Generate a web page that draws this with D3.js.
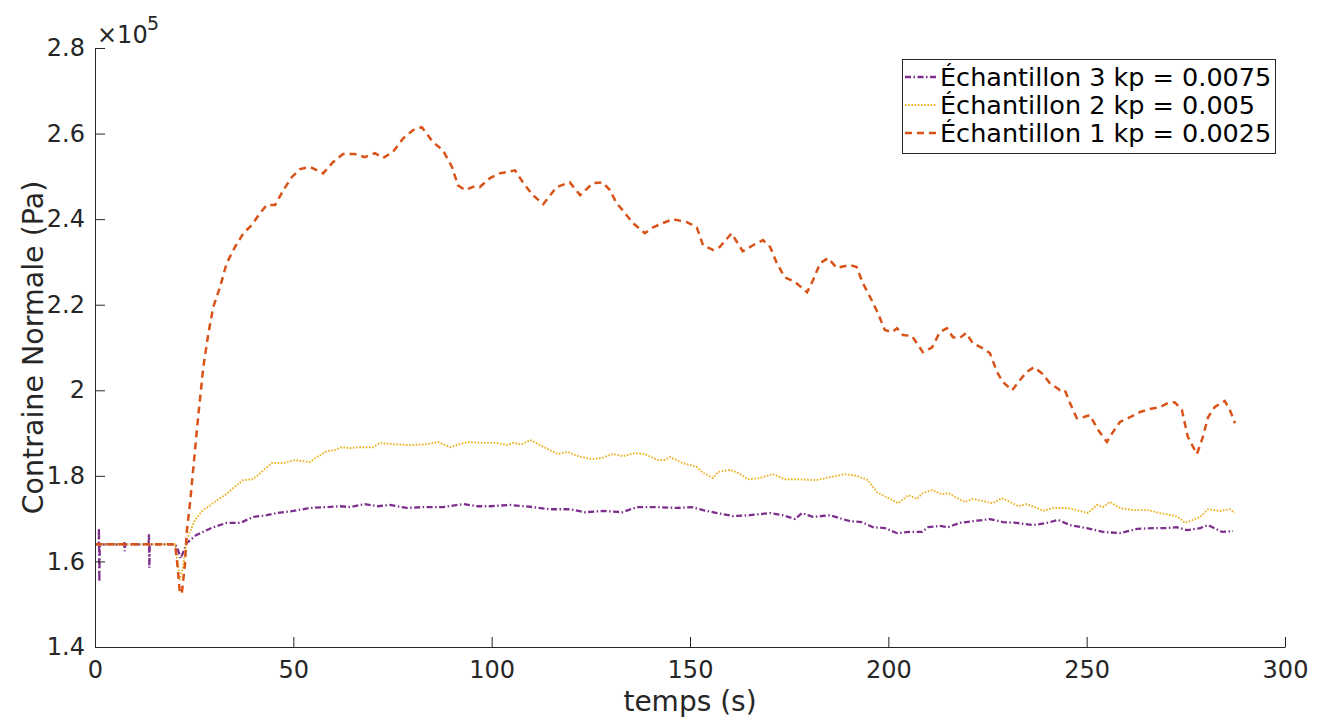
<!DOCTYPE html>
<html>
<head>
<meta charset="utf-8">
<script src="https://cdn.jsdelivr.net/npm/d3@7"></script>
<style>
  body { margin: 0; background: #fff; }
  text { font-family: "DejaVu Sans", sans-serif; }
</style>
</head>
<body>
<div id="root"></div>
<script>
// values are in units of 1e5 Pa (axis shows x10^5)

// Echantillon 1 kp = 0.0025
const s1Time = [0, 20.2, 20.8, 21.4, 21.9, 22.7, 23.1, 24.0, 24.8, 26.0, 27.3, 28.6, 29.8, 31.5, 33.2, 35.3, 37.4, 39.5, 41.6, 43.3,
  45.4, 47.5, 49.6, 51.7, 54.2, 57.5, 60, 62.5, 65.5, 68, 70.6, 72.6, 75.1, 77.7, 80.2, 82.4, 85.2, 87.7, 90, 91.5,
  93.3, 95.8, 97, 99.6, 102, 105.9, 108, 110.4, 113, 116.4, 119.7, 122.3, 125.5, 128, 129.8, 131.5, 133, 135.6, 138.6, 140.7,
  143.2, 145.7, 149.2, 151.7, 153.3, 155.8, 157.5, 160.5, 162, 163.3, 165.9, 168.4, 170.2, 171.9, 173.9, 176.5, 179.5, 181, 182.8, 184.8,
  187, 190.3, 192, 193.6, 195.4, 197.4, 199.1, 200.9, 202.2, 203.7, 205.9, 207.2, 208.7, 211, 213, 214.8, 216.3, 218, 219.6, 221.3,
  223.6, 225.6, 227.4, 228.9, 231.2, 233.2, 234.9, 236.7, 238.7, 240.7, 243.3, 244.5, 245.8, 247.5, 249.1, 250.8, 252.9, 255.1, 256.6, 258.4,
  260.9, 263.4, 265.9, 268.5, 270.5, 272.2, 274, 275.5, 277.8, 279.3, 280.6, 282.3, 284.8, 286.1, 287.4];
const s1Value = [1.64, 1.64, 1.59, 1.525, 1.526, 1.596, 1.666, 1.74, 1.82, 1.937, 2.054, 2.134, 2.194, 2.241, 2.297, 2.335, 2.367, 2.386, 2.414, 2.433,
  2.433, 2.468, 2.498, 2.517, 2.522, 2.507, 2.533, 2.552, 2.552, 2.545, 2.554, 2.543, 2.557, 2.589, 2.608, 2.615, 2.58, 2.561, 2.522, 2.479,
  2.468, 2.477, 2.475, 2.496, 2.507, 2.514, 2.484, 2.456, 2.435, 2.475, 2.486, 2.456, 2.484, 2.486, 2.468, 2.437, 2.421, 2.391, 2.367, 2.381,
  2.391, 2.40, 2.393, 2.381, 2.339, 2.328, 2.335, 2.367, 2.344, 2.325, 2.339, 2.351, 2.335, 2.297, 2.264, 2.253, 2.229, 2.257, 2.297, 2.309,
  2.286, 2.293, 2.288, 2.25, 2.218, 2.18, 2.141, 2.136, 2.145, 2.129, 2.127, 2.11, 2.089, 2.10, 2.136, 2.145, 2.124, 2.122, 2.134, 2.11,
  2.099, 2.087, 2.043, 2.019, 2.0, 2.024, 2.043, 2.054, 2.04, 2.017, 2.0, 2.0, 1.97, 1.935, 1.937, 1.942, 1.907, 1.879, 1.902, 1.926,
  1.937, 1.949, 1.956, 1.961, 1.97, 1.972, 1.954, 1.891, 1.851, 1.891, 1.937, 1.961, 1.975, 1.954, 1.923];

// Echantillon 2 kp = 0.005
const s2Time = [0, 20.2, 20.8, 21.4, 22.2, 23.1, 24, 25.2, 27.2, 28.2, 30.7, 32.8, 34.8, 37.3, 39.8, 42, 44.6, 47.5, 50.4, 54.2,
  55.9, 58.5, 60.5, 62.2, 64.3, 66.8, 70.1, 71.8, 75.1, 79.4, 83.6, 86.5, 89.5, 92, 94, 97.9, 101.3, 103.9, 105.4, 107.6,
  109.7, 112.2, 114.7, 116.7, 119.2, 121.8, 125.3, 127.8, 130.6, 133.1, 136.1, 138.6, 141.9, 143.7, 144.9, 148.2, 151.7, 153.3, 155.8, 157.1,
  160.1, 162.1, 164.6, 167.6, 170.9, 173.9, 177.2, 181.9, 185.3, 189.1, 192, 194.9, 197.1, 199.6, 202.5, 205, 207.2, 208.7, 211, 213.5,
  215.1, 217.3, 219.3, 221.3, 223.8, 226.3, 228.6, 230.7, 232.7, 234.9, 237.5, 239, 241.5, 245, 247.5, 250.3, 252.6, 254.1, 255.9, 258.4,
  261.7, 265.4, 268.5, 271.5, 273, 274.8, 276.8, 278.6, 280.6, 283.6, 286.1, 287.4];
const s2Value = [1.64, 1.64, 1.60, 1.557, 1.587, 1.65, 1.67, 1.697, 1.72, 1.725, 1.743, 1.755, 1.771, 1.79, 1.792, 1.809, 1.83, 1.83, 1.837, 1.832,
  1.844, 1.858, 1.86, 1.867, 1.865, 1.867, 1.867, 1.877, 1.874, 1.872, 1.874, 1.879, 1.867, 1.874, 1.879, 1.877, 1.877, 1.872, 1.877, 1.874,
  1.884, 1.872, 1.86, 1.851, 1.856, 1.846, 1.839, 1.842, 1.851, 1.846, 1.853, 1.851, 1.837, 1.837, 1.844, 1.83, 1.821, 1.807, 1.795, 1.809,
  1.814, 1.807, 1.792, 1.795, 1.804, 1.792, 1.792, 1.79, 1.797, 1.804, 1.80, 1.79, 1.762, 1.75, 1.736, 1.755, 1.746, 1.76, 1.767, 1.757,
  1.76, 1.748, 1.739, 1.746, 1.741, 1.736, 1.748, 1.739, 1.729, 1.734, 1.725, 1.718, 1.725, 1.725, 1.72, 1.713, 1.732, 1.727, 1.739, 1.725,
  1.72, 1.72, 1.713, 1.708, 1.704, 1.69, 1.697, 1.704, 1.722, 1.718, 1.722, 1.713];

// Echantillon 3 kp = 0.0075
const s3Time = [0, 0.9, 1.0, 1.1, 1.2, 7.3, 7.4, 7.5, 7.6, 13.5, 13.6, 13.7, 13.8, 20.2, 20.8, 21.6, 22.4, 23.1, 25.6, 26.5,
  29.8, 33.2, 36.6, 39.9, 43.3, 45.8, 50, 54.2, 58.5, 61.8, 64.3, 68, 71.4, 74.4, 78.6, 82.7, 87.7, 92.8, 96.5, 99.6,
  104.6, 110.4, 114.7, 119.7, 123.5, 128, 133, 136.6, 141.7, 146.7, 150.5, 153.3, 156.8, 160.8, 165.1, 170.2, 173.4, 176.5, 178.2, 181,
  185.3, 190.3, 193.3, 196.1, 199.1, 202.2, 205.4, 208.5, 210, 213, 215.1, 218, 221.3, 225.6, 228.9, 232.4, 236.5, 240, 242.8, 245.8,
  250, 254.1, 258.4, 262.7, 266.7, 270.2, 272.7, 275.3, 278.6, 280.6, 284.1, 286.9];
const s3Value = [1.64, 1.64, 1.678, 1.552, 1.64, 1.64, 1.645, 1.624, 1.64, 1.64, 1.664, 1.585, 1.64, 1.64, 1.63, 1.607, 1.625, 1.643, 1.662, 1.666,
  1.68, 1.69, 1.69, 1.704, 1.708, 1.713, 1.718, 1.725, 1.727, 1.729, 1.727, 1.734, 1.729, 1.732, 1.725, 1.727, 1.727, 1.734, 1.729, 1.729,
  1.732, 1.727, 1.722, 1.722, 1.715, 1.718, 1.715, 1.727, 1.727, 1.725, 1.727, 1.72, 1.713, 1.706, 1.708, 1.713, 1.708, 1.699, 1.713, 1.704,
  1.708, 1.694, 1.692, 1.68, 1.678, 1.666, 1.669, 1.669, 1.68, 1.683, 1.68, 1.69, 1.694, 1.699, 1.692, 1.69, 1.685, 1.69, 1.697, 1.685,
  1.678, 1.669, 1.666, 1.676, 1.678, 1.678, 1.68, 1.673, 1.678, 1.685, 1.669, 1.671];

const seriesNames = ["Échantillon 3 kp = 0.0075", "Échantillon 2 kp = 0.005", "Échantillon 1 kp = 0.0025"];
const xTicks = [0, 50, 100, 150, 200, 250, 300];
const yTicks = [1.4, 1.6, 1.8, 2, 2.2, 2.4, 2.6, 2.8];

//DIMENSIONS
const width = 1327, height = 722;
const margin = {top: 48, right: 42, bottom: 75, left: 95};

const svg = d3.select('#root')
  .append('svg')
  .attr('width', width)
  .attr('height', height);

svg.append('rect').attr('width', width).attr('height', height).attr('fill', '#fff');

//SCALES
const x = d3.scaleLinear().domain([0, 300]).range([margin.left, width - margin.right]);
const y = d3.scaleLinear().domain([1.4, 2.8]).range([height - margin.bottom, margin.top]);

const axisColor = '#262626';

//LINES (drawn purple first so orange sits on top)
const series = [
  {t: s3Time, v: s3Value, color: '#7E2F8E', dash: '6,2.5,1.5,2.5', w: 2.3},
  {t: s2Time, v: s2Value, color: '#EDB120', dash: '1.6,1.6', w: 1.9},
  {t: s1Time, v: s1Value, color: '#D95319', dash: '7,5', w: 2.5}
];

const line = d3.line()
  .x(d => x(d[0]))
  .y(d => y(d[1]));

series.forEach(s => {
  svg.append('path')
    .datum(d3.zip(s.t, s.v))
    .attr('fill', 'none')
    .attr('stroke', s.color)
    .attr('stroke-width', s.w)
    .attr('stroke-dasharray', s.dash)
    .attr('d', line);
});

//X AXIS
const gx = svg.append('g')
  .attr('transform', `translate(0,${height - margin.bottom})`)
  .call(d3.axisBottom(x).tickValues(xTicks).tickSizeInner(-10).tickSizeOuter(0).tickPadding(14));

//Y AXIS
const gy = svg.append('g')
  .attr('transform', `translate(${margin.left},0)`)
  .call(d3.axisLeft(y).tickValues(yTicks).tickFormat(d => String(d)).tickSizeInner(-10).tickSizeOuter(0).tickPadding(10));

[gx, gy].forEach(g => {
  g.select('.domain').attr('stroke', axisColor);
  g.selectAll('.tick line').attr('stroke', axisColor);
  g.selectAll('.tick text')
    .attr('fill', axisColor)
    .style('font-family', '"DejaVu Sans", sans-serif')
    .style('font-size', '24px');
});

// exponent label
svg.append('text')
  .attr('x', 97).attr('y', 43)
  .attr('fill', axisColor)
  .style('font-size', '24px')
  .text('×10');
svg.append('text')
  .attr('x', 147).attr('y', 30)
  .attr('fill', axisColor)
  .style('font-size', '19px')
  .text('5');

//AXIS LABELS
svg.append('text')
  .attr('x', (margin.left + width - margin.right) / 2)
  .attr('y', 711)
  .attr('text-anchor', 'middle')
  .attr('fill', axisColor)
  .style('font-size', '28px')
  .text('temps (s)');

svg.append('text')
  .attr('transform', `translate(43,${(margin.top + height - margin.bottom) / 2}) rotate(-90)`)
  .attr('text-anchor', 'middle')
  .attr('fill', axisColor)
  .style('font-size', '28.5px')
  .text('Contraine Normale (Pa)');

//LEGEND
const legend = svg.append('g');
legend.append('rect')
  .attr('x', 902.5).attr('y', 59.5)
  .attr('width', 373).attr('height', 94)
  .attr('fill', '#fff')
  .attr('stroke', axisColor)
  .attr('stroke-width', 1);

const legendOrder = [0, 1, 2];
legendOrder.forEach((i, k) => {
  const cy = 77 + k * 28;
  legend.append('line')
    .attr('x1', 905).attr('x2', 937)
    .attr('y1', cy).attr('y2', cy)
    .attr('stroke', series[i].color)
    .attr('stroke-width', series[i].w)
    .attr('stroke-dasharray', series[i].dash);
  legend.append('text')
    .attr('x', 940).attr('y', cy + 9)
    .attr('fill', '#000')
    .style('font-size', '25.5px')
    .text(seriesNames[i]);
});
</script>
</body>
</html>
